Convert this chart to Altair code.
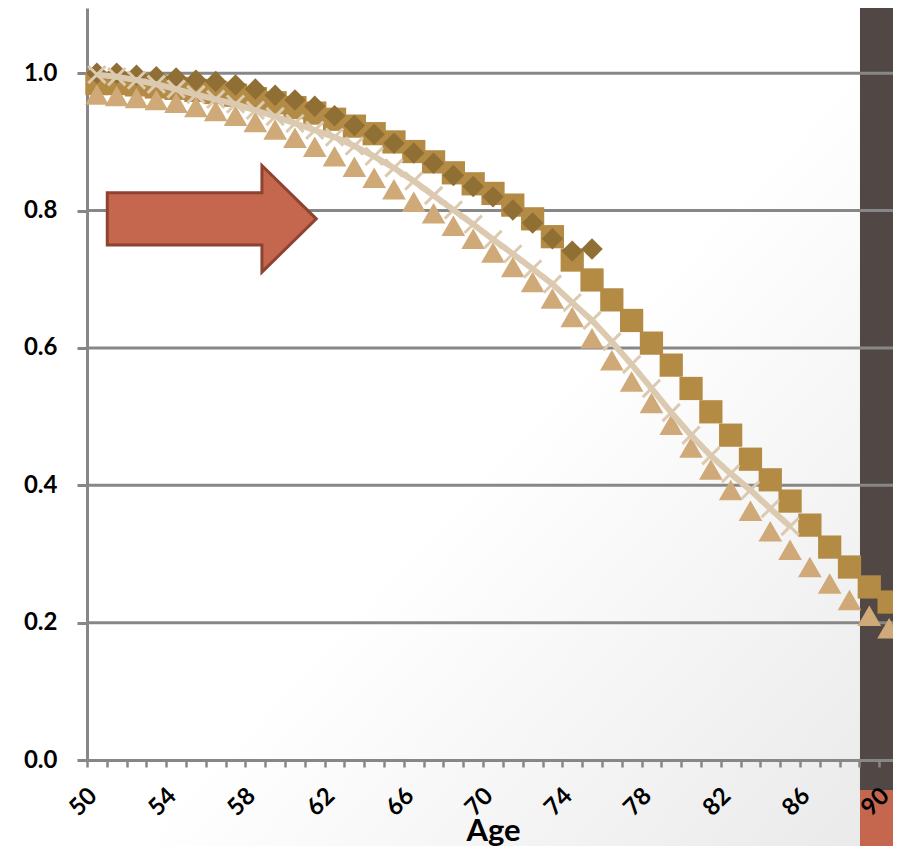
import altair as alt
import pandas as pd

# ---------------- data ----------------
ages_diamond = list(range(50, 76))
diamond_vals = [1.000, 1.000, 0.997, 0.995, 0.993, 0.990, 0.988, 0.983, 0.977, 0.968,
                0.961, 0.952, 0.938, 0.924, 0.911, 0.898, 0.884, 0.869, 0.851, 0.835,
                0.820, 0.801, 0.782, 0.759, 0.741, 0.744]

ages_square = list(range(50, 91))
square_vals = [0.985, 0.985, 0.983, 0.980, 0.978, 0.975, 0.972, 0.968, 0.963, 0.957,
               0.950, 0.942, 0.933, 0.923, 0.912, 0.900, 0.886, 0.871, 0.855, 0.839,
               0.825, 0.808, 0.788, 0.762, 0.728, 0.699, 0.670, 0.640, 0.607, 0.575,
               0.541, 0.507, 0.473, 0.438, 0.408, 0.377, 0.342, 0.310, 0.281, 0.252,
               0.230]

ages_triangle = list(range(50, 91))
triangle_vals = [0.969, 0.967, 0.964, 0.961, 0.957, 0.951, 0.945, 0.938, 0.929, 0.918,
                 0.906, 0.893, 0.879, 0.864, 0.848, 0.831, 0.813, 0.796, 0.778, 0.759,
                 0.739, 0.718, 0.696, 0.672, 0.645, 0.614, 0.582, 0.551, 0.520, 0.488,
                 0.455, 0.423, 0.393, 0.363, 0.333, 0.306, 0.281, 0.257, 0.233, 0.210,
                 0.192]

ages_cross = list(range(50, 86))
cross_vals = [0.998, 0.995, 0.990, 0.984, 0.977, 0.969, 0.962, 0.955, 0.946, 0.937,
              0.927, 0.917, 0.907, 0.894, 0.879, 0.862, 0.843, 0.822, 0.801, 0.780,
              0.758, 0.737, 0.715, 0.693, 0.666, 0.640, 0.609, 0.576, 0.541, 0.506,
              0.473, 0.443, 0.417, 0.393, 0.366, 0.340]

y_tick_vals = [0.0, 0.2, 0.4, 0.6, 0.8, 1.0]
grid_vals = [0.2, 0.4, 0.6, 0.8, 1.0]
x_label_ages = [50, 54, 58, 62, 66, 70, 74, 78, 82, 86, 90]
x_tick_bounds = [a - 0.5 for a in range(50, 92)]  # category boundaries

# annotation arrow (in data coordinates) and slide decoration band
arrow_age = [55.8]
arrow_val = [0.788]
band_from = [88.53]
band_to = [91.5]

# ---------------- layout / style ----------------
W, H = 812, 752
BAND_PX = W / 41.0
GRAY = "#878787"
ARROW_PATH = "M-1,-0.25L0.48,-0.25L0.48,-0.51L1,0L0.48,0.51L0.48,0.25L-1,0.25Z"
X_PATH = "M-1,-1L1,1M-1,1L1,-1"

x_scale = alt.Scale(domain=[49.5, 90.5], nice=False, zero=False)
y_scale = alt.Scale(domain=[0, 1.095], nice=False, zero=True)

label_test = " || ".join(f"datum.value + 0.5 == {a}" for a in x_label_ages)
x_axis = alt.Axis(
    values=x_tick_bounds,
    labelExpr=f"({label_test}) ? format(datum.value + 0.5, 'd') : ''",
    labelOffset=BAND_PX / 2 - 4, labelAngle=-45, labelAlign="right", labelBaseline="middle",
    labelPadding=25, labelFont="Lato", labelFontSize=24, labelFontWeight="bold",
    labelColor="#000000", labelOverlap=False, labelFlush=False, labelBound=False,
    tickSize=7, tickWidth=2.5, tickColor=GRAY, domainColor=GRAY, domainWidth=3,
    grid=False, title="Age", titleFont="Lato", titleFontSize=31, titleFontWeight="bold",
    titleColor="#000000", titleBaseline="alphabetic", titleY=80, zindex=1,
)
y_axis = alt.Axis(
    values=y_tick_vals, format=".1f", grid=False, tickSize=10, tickWidth=3, tickColor=GRAY,
    domainColor=GRAY, domainWidth=3, labelPadding=20, labelFont="Lato", labelFontSize=24,
    labelFontWeight="bold", labelColor="#000000", labelOverlap=False, title=None,
)


def X(field):
    return alt.X(field, type="quantitative", scale=x_scale, axis=x_axis)


def Y(field):
    return alt.Y(field, type="quantitative", scale=y_scale, axis=y_axis)


one = pd.DataFrame({"k": [0]})

bg = alt.Chart(one).mark_rect(
    color=alt.LinearGradient(
        gradient="linear",
        stops=[alt.GradientStop(offset=0, color="#FFFFFF"),
               alt.GradientStop(offset=0.5, color="#FFFFFF"),
               alt.GradientStop(offset=1, color="#E8E8E8")],
        x1=0, y1=0, x2=1, y2=1,
    )
).encode(x=alt.value(30), x2=alt.value(W + 20), y=alt.value(-10), y2=alt.value(H + 100))

band_df = pd.DataFrame({"b0": band_from, "b1": band_to})
band = alt.Chart(band_df).mark_rect(color="#514845").encode(
    x=X("b0"), x2="b1", y=alt.value(-20), y2=alt.value(782)
)
orange = alt.Chart(band_df).mark_rect(color="#C4674E").encode(
    x=X("b0"), x2="b1", y=alt.value(782), y2=alt.value(H + 100)
)

grid = alt.Chart(pd.DataFrame({"g": grid_vals})).mark_rule(
    color=GRAY, strokeWidth=3
).encode(y=Y("g"), x=alt.value(0), x2=alt.value(W + 5))

sq = alt.Chart(pd.DataFrame({"age": ages_square, "v": square_vals})).mark_point(
    shape="square", filled=True, size=540, opacity=1, color="#B38B44"
).encode(x=X("age"), y=Y("v"))

tri = alt.Chart(pd.DataFrame({"age": ages_triangle, "v": triangle_vals})).mark_point(
    shape="triangle-up", filled=True, size=560, opacity=1, color="#CFAA78"
).encode(x=X("age"), y=Y("v"))

dia = alt.Chart(pd.DataFrame({"age": ages_diamond, "v": diamond_vals})).mark_point(
    shape="diamond", filled=True, size=460, opacity=1, color="#8F6F34"
).encode(x=X("age"), y=Y("v"))

cross_df = pd.DataFrame({"age": ages_cross, "v": cross_vals})
line = alt.Chart(cross_df).mark_line(color="#DCCAB0", strokeWidth=6).encode(
    x=X("age"), y=Y("v")
)
crosses = alt.Chart(cross_df).mark_point(
    shape=X_PATH, filled=False, size=300, opacity=1, color="#DCCAB0", strokeWidth=3
).encode(x=X("age"), y=Y("v"))

arrow = alt.Chart(pd.DataFrame({"age": arrow_age, "v": arrow_val})).mark_point(
    shape=ARROW_PATH, filled=True, size=209 * 209, opacity=1,
    fill="#C4674E", stroke="#8E4330", strokeWidth=3,
).encode(x=X("age"), y=Y("v"))

chart = alt.layer(bg, band, orange, grid, sq, tri, dia, line, crosses, arrow).properties(
    width=W, height=H,
    autosize=alt.AutoSizeParams(type="none"),
    padding={"left": 79, "top": 0, "right": -6, "bottom": 86},
    background="#FFFFFF",
).configure_view(strokeWidth=0)

chart.save("out.html", embed_options={"renderer": "svg", "actions": False})
